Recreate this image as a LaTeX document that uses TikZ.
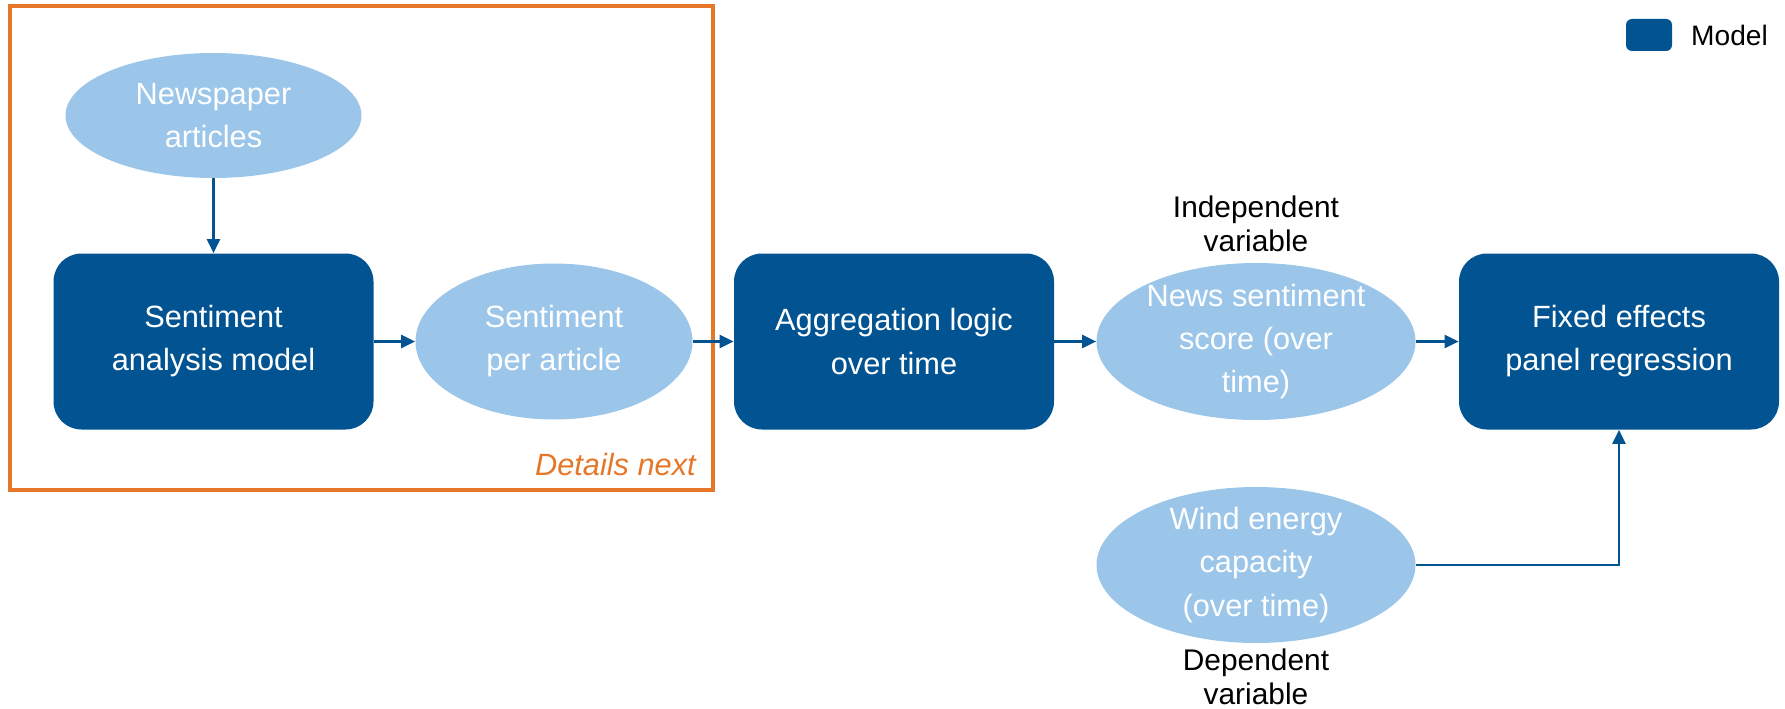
\documentclass[tikz,border=0pt]{standalone}
\usepackage{fontspec}
\setmainfont{Liberation Sans}
\usetikzlibrary{shapes.geometric,arrows.meta}

\begin{document}
\begin{tikzpicture}[
  model/.style={fill=darkblue, rounded corners=0.56cm, minimum width=6.4cm, minimum height=3.52cm,
    text=white, align=center, font=\fontsize{17.5}{24.5}\selectfont},
  data/.style={ellipse, fill=lightblue, inner sep=0pt},
  datatext/.style={text=white, align=center, font=\fontsize{17.5}{24.5}\selectfont},
  note/.style={align=center, font=\fontsize{17}{19.5}\selectfont},
  flow/.style={darkblue, line width=1.4pt, -{Triangle[length=0.28cm, width=0.26cm]}}
]
  \definecolor{darkblue}{RGB}{2,83,145}
  \definecolor{lightblue}{RGB}{155,198,234}
  \definecolor{detailorange}{RGB}{230,118,40}
  \useasboundingbox (0, 0) rectangle (35.7, 14.16);

  \node [draw=detailorange, line width=2pt, minimum width=14.06cm, minimum height=9.68cm] (details) at (7.23, 9.2) {};
  \node [anchor=east, text=detailorange, font=\fontsize{17.5}{24.5}\selectfont\itshape] (detailsnote) at (14.04, 4.87) {Details next};

  \node [data, minimum width=5.92cm, minimum height=2.5cm, label={[datatext]center:{Newspaper\\articles}}] (articles) at (4.27, 11.85) {};
  \node [model] (sentimentmodel) at (4.27, 7.33) {Sentiment\\analysis model};
  \node [data, minimum width=5.54cm, minimum height=3.12cm, label={[datatext]center:{Sentiment\\per article}}] (perarticle) at (11.08, 7.33) {};
  \node [model] (aggregation) at (17.88, 7.33) {Aggregation logic\\over time};
  \node [data, minimum width=6.38cm, minimum height=3.14cm, label={[datatext]center:{News sentiment\\score (over\\time)}}] (newsscore) at (25.12, 7.33) {};
  \node [model] (regression) at (32.38, 7.33) {Fixed effects\\panel regression};
  \node [data, minimum width=6.38cm, minimum height=3.12cm, label={[datatext]center:{Wind energy\\capacity\\(over time)}}] (windcapacity) at (25.12, 2.86) {};

  \node [note] (independent) at (25.12, 9.68) {Independent\\variable};
  \node [note] (dependent) at (25.12, 0.62) {Dependent\\variable};

  \node [model, minimum width=0.92cm, minimum height=0.64cm, rounded corners=0.12cm] (legendkey) at (32.98, 13.46) {};
  \node [note, anchor=west, font=\fontsize{16}{20}\selectfont] (legendtext) at (33.7, 13.46) {Model};

  \draw [flow] (articles.south) -- (sentimentmodel.north);
  \draw [flow] (sentimentmodel.east) -- (perarticle.west);
  \draw [flow] (perarticle.east) -- (aggregation.west);
  \draw [flow] (aggregation.east) -- (newsscore.west);
  \draw [flow] (newsscore.east) -- (regression.west);
  \draw [flow] (windcapacity.east) -| (regression.south);
\end{tikzpicture}
\end{document}
